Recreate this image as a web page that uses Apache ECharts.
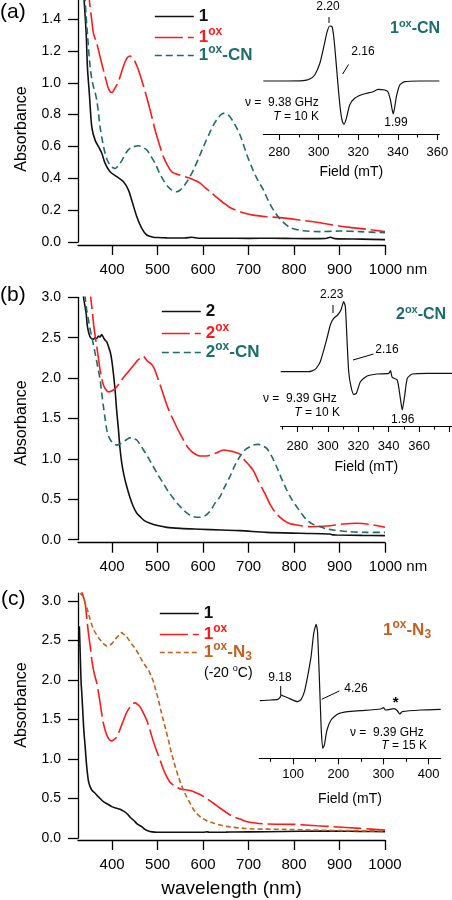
<!DOCTYPE html>
<html><head><meta charset="utf-8">
<script src="https://cdn.jsdelivr.net/npm/echarts@6/dist/echarts.min.js"></script>
<style>html,body{margin:0;padding:0;background:#fff}#c{width:452px;height:900px}</style>
</head><body><div id="c"></div>
<script>
const FONT = 'Liberation Sans, Arial, Helvetica, sans-serif';
const RED = '#ff1a1a', TEAL = '#1c6e6c', BROWN = '#c2621e', BLACK = '#111';

// ---- tick labels ----
const uvTicks = [400,500,600,700,800,900,1000];
const absTicksA = [0,0.2,0.4,0.6,0.8,1.0,1.2,1.4];
const absTicksBC = [0,0.5,1.0,1.5,2.0,2.5,3.0];
const fieldMajorA = [280,300,320,340,360], fieldMinorA = [290,310,330,350];
const fieldMajorB = [280,300,320,340,360,380], fieldLabelsB = [280,300,320,340,360], fieldMinorB = [270,290,310,330,350,370];
const fieldMajorC = [100,200,300,400], fieldMinorC = [50,150,250,350];

// ---- panel (a) ----
const wlA_1 = [330,338.5,343,345.7,350,355.4,362.6,372,377.4,384.6,395.6,410.3,425,436,443,454.3,465.3,476,490.8,500,520,560,575,590,650,700,750,800,850,870,880,890,950,1000];
const absA_1 = [2.0,1.52,1.31,1.10,0.93,0.72,0.64,0.588,0.557,0.494,0.441,0.41,0.378,0.326,0.264,0.159,0.086,0.044,0.03,0.028,0.026,0.025,0.03,0.024,0.024,0.023,0.024,0.022,0.021,0.022,0.03,0.021,0.018,0.015];
const wlA_ox = [348,350,355,359,366.3,373.6,379,384.6,390,395.6,400,403,408,413.8,421,428.6,434,439.6,445,450.5,458,465,472,479.8,487,494.5,503,512.7,522,531.2,540,549.5,560,571.4,582,593.4,605,618,630,645,660,677,692,710,740,769,813,850,886,923,960,1000];
const absA_ox = [1.65,1.52,1.40,1.31,1.247,1.163,1.10,1.04,0.98,0.944,0.94,0.95,0.975,1.006,1.07,1.132,1.16,1.168,1.155,1.132,1.08,1.017,0.95,0.87,0.79,0.703,0.62,0.536,0.48,0.441,0.428,0.42,0.41,0.40,0.387,0.37,0.34,0.31,0.28,0.245,0.215,0.195,0.18,0.169,0.159,0.153,0.138,0.124,0.107,0.092,0.08,0.065];
const wlA_cn = [335,340.7,345.7,351.6,355,359,362.6,366.3,370,373.6,379,384.6,390,395.6,401,406.6,412,417.6,425,432.3,440,446.8,457.8,467,476.3,485,494.5,503,512.7,522,531.2,542,549,556.7,567,578.7,590,600.7,612,622.6,633,644.6,655,666.6,675,683,696,710,720,732,745,755,769,791,820,857,901,945,1000];
const absA_cn = [1.9,1.52,1.31,1.10,1.03,0.975,0.94,0.89,0.81,0.72,0.63,0.557,0.51,0.483,0.468,0.462,0.475,0.494,0.53,0.567,0.59,0.598,0.605,0.595,0.578,0.54,0.494,0.44,0.389,0.35,0.326,0.316,0.325,0.347,0.39,0.452,0.525,0.598,0.67,0.734,0.78,0.808,0.80,0.755,0.71,0.66,0.55,0.45,0.39,0.33,0.25,0.20,0.145,0.092,0.071,0.065,0.069,0.065,0.058];

// ---- panel (b) ----
const wlB_2 = [335,337,342.9,345.7,351.6,358.9,362,366.3,370,373.6,377,379.5,382,384.6,388,392,396,399.3,403,406.6,410,414,417,421.3,426,432.3,440,446.8,454,461.5,470,483.5,500,520,550,593.4,640,681,740,813,879,885,894,950,1000];
const absB_2 = [3.2,3.01,2.80,2.64,2.51,2.48,2.50,2.49,2.52,2.51,2.54,2.52,2.49,2.47,2.45,2.39,2.32,2.22,2.05,1.85,1.6,1.36,1.15,0.945,0.8,0.656,0.51,0.408,0.33,0.285,0.24,0.203,0.175,0.153,0.14,0.13,0.12,0.112,0.091,0.079,0.07,0.06,0.058,0.053,0.05];
const wlB_ox = [350,353,356,359,362,366.3,370,373.6,377,380.9,386,392,399,406.6,414,421.3,428,435.9,443,450.5,456,461.5,465,468.8,472,475,479.8,485,490.8,496,501.8,509,516.5,525,534.7,544,553,562,571.4,580,589.7,598,608,620,630,645,666,681,689,700,710,722,736,748,760,776,790,806,835,872,908,938,967,1000];
const absB_ox = [3.2,3.0,2.85,2.68,2.55,2.39,2.24,2.10,2.0,1.915,1.86,1.83,1.84,1.87,1.92,1.98,2.03,2.08,2.13,2.18,2.22,2.245,2.26,2.27,2.25,2.23,2.20,2.18,2.14,2.07,1.976,1.86,1.73,1.6,1.48,1.37,1.275,1.18,1.11,1.07,1.04,1.035,1.036,1.055,1.077,1.11,1.09,1.06,1.0,0.93,0.86,0.72,0.57,0.43,0.33,0.244,0.2,0.182,0.161,0.17,0.194,0.203,0.19,0.153];
const wlB_cn = [336,340.7,344,348,351,355.4,359,362.6,368,373.6,377,380.9,384.6,388.3,393,399.3,405,410.3,417,425,432,439.6,446,454.3,461,469,480,490.8,501,512.7,523,534.7,545,556.7,567,578.7,593.4,604,615,626,637,648,659,670,681,692,703,712,721.5,730,740,751,762,773,784,795,806,817,828,842,857,871,886,923,960,1000];
const absB_cn = [3.3,3.0,2.85,2.72,2.62,2.51,2.41,2.31,2.15,1.98,1.82,1.646,1.5,1.36,1.27,1.21,1.18,1.17,1.185,1.21,1.24,1.26,1.255,1.234,1.18,1.11,1.01,0.903,0.80,0.698,0.6,0.512,0.44,0.368,0.32,0.285,0.277,0.295,0.35,0.45,0.53,0.66,0.78,0.92,1.03,1.11,1.15,1.175,1.18,1.165,1.13,1.03,0.90,0.75,0.615,0.5,0.408,0.32,0.244,0.19,0.161,0.135,0.12,0.099,0.091,0.091];

// ---- panel (c) ----
const wlC_1 = [328,329,330.5,332,333.4,336,338,340.7,343,345.7,348,351.6,356,362.6,370,380.9,390,399.3,408,417.6,425,432.3,440,446.8,455,465,472,479.8,488,498,530,557,600,610,613,650,667,740,813,886,950,1000];
const absC_1 = [2.68,2.5,2.2,1.95,1.83,1.55,1.35,1.16,0.98,0.82,0.72,0.65,0.6,0.566,0.52,0.46,0.43,0.397,0.38,0.364,0.34,0.31,0.26,0.228,0.18,0.143,0.11,0.089,0.078,0.072,0.072,0.072,0.072,0.08,0.072,0.074,0.076,0.08,0.085,0.089,0.083,0.08];
const wlC_ox = [333.4,337,340.7,344,348,352,355.4,360,366.3,370,373.6,377,380.9,386,391.9,395,399.3,404,410.3,417,425,432,439.6,445,450.5,456,461.5,468,476.2,483,490.8,498,505.5,512,520,527,534.7,544,553,562,571.4,582,593.4,608,622.6,637,652,666,681,695,710.6,740,798.5,850,886,945,1000];
const absC_ox = [3.12,3.05,2.97,2.8,2.59,2.42,2.25,2.1,1.96,1.84,1.71,1.58,1.45,1.34,1.26,1.24,1.23,1.245,1.28,1.37,1.49,1.59,1.66,1.70,1.71,1.69,1.66,1.59,1.49,1.37,1.22,1.1,0.987,0.88,0.776,0.71,0.67,0.635,0.616,0.61,0.6,0.58,0.55,0.5,0.44,0.38,0.32,0.27,0.24,0.21,0.194,0.177,0.173,0.156,0.143,0.122,0.10];
const wlC_n3 = [329.7,333,337,341,345.7,350,355.4,360,366.3,372,377.4,383,388.4,394,399.3,405,410.3,416,421.3,425,428.6,434,439.6,445,450.5,458,465.3,472,479.8,485,490.8,496,501.8,507,512.7,518,523.8,529,534.7,540,545.7,551,556.7,564,571.4,578,586,596,608,622,637,652,666.6,690,710.6,776.5,850,923,1000];
const absC_n3 = [3.10,3.08,3.05,2.97,2.89,2.80,2.70,2.63,2.57,2.52,2.485,2.45,2.43,2.44,2.46,2.50,2.54,2.57,2.60,2.58,2.57,2.53,2.485,2.44,2.40,2.33,2.25,2.19,2.127,2.06,1.98,1.87,1.75,1.62,1.49,1.37,1.24,1.11,0.987,0.88,0.776,0.69,0.608,0.52,0.44,0.37,0.31,0.26,0.219,0.19,0.165,0.147,0.135,0.122,0.114,0.11,0.10,0.092,0.089];

// ---- EPR insets (field in mT, intensity in arbitrary units) ----
const fieldA = [272,283.7,292.1,295.5,298,300.6,302.6,304.3,305.6,306.8,307.8,309,310,311,312,312.8,314,315.7,318.2,322.4,327.5,330,333.4,335,336.3,337.1,337.7,338.3,339.3,341,343.5,351,361];
const eprA = [0,0,0.3,2,6,17.7,34.3,49.3,55,54.3,41,14.3,-9,-29,-40.7,-43.3,-37.3,-24,-17.3,-13.3,-10.7,-8.3,-9,-10.7,-19,-28,-33,-28,-15.7,-4,-0.7,0,0];
const fieldB = [269,287.3,291.7,295,299.4,301.6,303.8,306.4,308.6,310.4,311.5,312.6,313.7,315.2,317,318.7,321.4,325.8,332.4,340,341.2,342.3,345.6,347.8,348.9,350.4,352.2,355.5,365.4,381.6];
const eprB = [0,0,2.3,10,33.3,46.7,53.3,56.7,61.7,70,65,31.7,0,-15,-22.7,-21.7,-10,-4.3,-2.3,-1.7,1,-5.7,-8.3,-28.3,-38.3,-25,-6.7,-2.3,-1.7,-1.7];
const fieldC = [26,51.4,66,70.6,73.5,78,88,110,117.7,125,132,139.7,145.6,151,154,158,162,165.5,169.2,175,184,199,221,250,294,300,305,324,331,336,342,383,427];
const eprC = [9.3,10,10.7,12.3,15,14,12.3,8.3,10.7,18.3,33.3,53.3,76.7,85.7,78.3,33.3,-16.7,-38.3,-35,-20,-10,-4,-1.7,-0.7,1,2.3,0,1.3,-0.7,-4,-1.7,0,0.7];

const pairs = (x, y) => x.map((v, i) => [v, y[i]]);

function uvX(grid, offset, withNm, name) {
  const ax = {
    type: 'value', gridIndex: grid, min: 325, max: 1000, offset: offset,
    axisLine: { show: true, onZero: false, lineStyle: { color: '#000', width: 1.3 } },
    axisTick: { show: true, customValues: uvTicks, length: 10, lineStyle: { color: '#000', width: 1.3 } },
    axisLabel: { customValues: uvTicks, fontSize: 15, margin: 17, color: '#000', fontFamily: FONT,
      formatter: v => (withNm && v === 1000) ? '{n|1000 nm}' : String(v),
      rich: { n: { fontSize: 15, fontFamily: FONT, color: '#000', padding: [0, 0, 0, 26] } } },
    splitLine: { show: false }
  };
  if (name) {
    ax.name = name; ax.nameLocation = 'middle'; ax.nameGap = 39;
    ax.nameTextStyle = { fontSize: 19, fontFamily: FONT, color: '#000' };
  }
  return ax;
}
function absY(grid, max, ticks) {
  return {
    type: 'value', gridIndex: grid, min: 0, max: max,
    axisLine: { show: true, onZero: false, lineStyle: { color: '#000', width: 1.3 } },
    axisTick: { show: true, customValues: ticks, length: 10, lineStyle: { color: '#000', width: 1.3 } },
    axisLabel: { customValues: ticks, fontSize: 14, margin: 17, color: '#000', fontFamily: FONT, formatter: v => v.toFixed(1) },
    splitLine: { show: false }
  };
}
function fieldX(grid, min, max, major, labels, margin, nameGap) {
  return {
    type: 'value', gridIndex: grid, min: min, max: max,
    axisLine: { show: true, onZero: false, lineStyle: { color: '#000', width: 1.2 } },
    axisTick: { show: true, customValues: major, length: 6, lineStyle: { color: '#000', width: 1.1 } },
    axisLabel: { customValues: labels, fontSize: 13, margin: margin, color: '#000', fontFamily: FONT },
    splitLine: { show: false },
    name: 'Field (mT)', nameLocation: 'middle', nameGap: nameGap,
    nameTextStyle: { fontSize: 14, fontFamily: FONT, color: '#000' }
  };
}
function minorX(grid, min, max, minor) {
  return {
    type: 'value', gridIndex: grid, min: min, max: max, position: 'bottom',
    axisLine: { show: false, onZero: false },
    axisTick: { show: true, customValues: minor, length: 3.5, lineStyle: { color: '#000', width: 1.1 } },
    axisLabel: { show: false }, splitLine: { show: false }
  };
}
function hiddenY(grid, min, max) {
  return { type: 'value', gridIndex: grid, min: min, max: max, show: false, splitLine: { show: false } };
}
function uvLine(name, xi, x, y, color, type) {
  return { type: 'line', name: name, xAxisIndex: xi, yAxisIndex: xi, data: pairs(x, y),
    symbol: 'none', showSymbol: false, smooth: 0.3, clip: true, animation: false,
    lineStyle: { color: color, width: 1.6, type: type }, itemStyle: { color: color },
    emphasis: { disabled: true } };
}
function eprLine(xi, yi, x, y) {
  return { type: 'line', xAxisIndex: xi, yAxisIndex: yi, data: pairs(x, y),
    symbol: 'none', showSymbol: false, smooth: 0.2, clip: true, animation: false,
    lineStyle: { color: '#111', width: 1.2 }, emphasis: { disabled: true } };
}

const RED_DASH = [28, 5], TEAL_DASH = [7, 4], BROWN_DASH = [5, 3];

const legendText = {
  a1: '{b|1}', a1ox: '{b|1}{s|ox}', a1oxCN: '{b|1}{s|ox}{b|-CN}',
  b2: '{b|2}', b2ox: '{b|2}{s|ox}', b2oxCN: '{b|2}{s|ox}{b|-CN}',
  c1: '{b|1}', c1ox: '{b|1}{s|ox}', c1oxN3: '{b|1}{s|ox}{b|-N}{u|3}'
};
function leg(name, left, top, color) {
  return {
    data: [name], left: left, top: top, orient: 'vertical', padding: 0, selectedMode: false,
    itemWidth: 39, itemHeight: 14,
    itemStyle: { opacity: 0, borderWidth: 0 },
    lineStyle: { width: 1.6 },
    formatter: n => legendText[n],
    textStyle: { color: color, fontSize: 17, fontWeight: 'bold', fontFamily: FONT,
      rich: {
        b: { color: color, fontSize: 17, fontWeight: 'bold', fontFamily: FONT },
        s: { color: color, fontSize: 12, fontWeight: 'bold', fontFamily: FONT, padding: [0, 0, 11, 0] },
        u: { color: color, fontSize: 12, fontWeight: 'bold', fontFamily: FONT, padding: [9, 0, 0, 0] }
      } }
  };
}

function txt(x, y, text, o) {
  o = o || {};
  return { type: 'text', x: x, y: y, z: 100, rotation: o.rot || 0,
    style: { text: text, fontSize: o.size || 12, fontFamily: FONT, fill: o.color || '#000',
      fontWeight: o.weight || 'normal', align: o.align || 'center', verticalAlign: 'middle', rich: o.rich } };
}
function seg(x1, y1, x2, y2) {
  return { type: 'line', z: 100, shape: { x1: x1, y1: y1, x2: x2, y2: y2 }, style: { stroke: '#000', lineWidth: 1 } };
}
function richTitle(color, size) {
  return {
    b: { fill: color, fontSize: size, fontWeight: 'bold', fontFamily: FONT },
    s: { fill: color, fontSize: size - 5, fontWeight: 'bold', fontFamily: FONT, padding: [0, 0, 10, 0] },
    u: { fill: color, fontSize: size - 5, fontWeight: 'bold', fontFamily: FONT, padding: [9, 0, 0, 0] }
  };
}
const italicRich = { i: { fontStyle: 'italic', fontSize: 12, fontFamily: FONT, fill: '#000' }, n: { fontSize: 12, fontFamily: FONT, fill: '#000' } };
const degRich = { n: { fontSize: 14, fontFamily: FONT, fill: '#000' }, s: { fontSize: 9, fontFamily: FONT, fill: '#000', padding: [0, 0, 8, 0] } };

const graphics = [
  txt(0, 12, '(a)', { size: 21, align: 'left' }),
  txt(0, 295, '(b)', { size: 21, align: 'left' }),
  txt(1, 599, '(c)', { size: 21, align: 'left' }),
  txt(22, 129, 'Absorbance', { size: 16, rot: Math.PI / 2 }),
  txt(22, 423, 'Absorbance', { size: 16, rot: Math.PI / 2 }),
  txt(22, 705, 'Absorbance', { size: 16, rot: Math.PI / 2 }),
  // inset (a)
  txt(328, 7, '2.20'), seg(329, 17, 329, 23),
  txt(363, 52, '2.16'), seg(342.7, 74, 348.5, 64.5),
  txt(396, 123, '1.99'),
  txt(245, 103, 'ν =  9.38 GHz', { align: 'left' }),
  txt(319, 117, '{i|T}{n| = 10 K}', { align: 'right', rich: italicRich }),
  txt(390, 29, '{b|1}{s|ox}{b|-CN}', { align: 'left', rich: richTitle(TEAL, 16) }),
  // inset (b)
  txt(331.7, 295, '2.23'), seg(333, 305, 333, 313),
  txt(387, 349.3, '2.16'), seg(353, 360, 373.5, 354),
  txt(402.7, 420, '1.96'),
  txt(263, 398.3, 'ν =  9.39 GHz', { align: 'left' }),
  txt(340, 412.3, '{i|T}{n| = 10 K}', { align: 'right', rich: italicRich }),
  txt(396, 315, '{b|2}{s|ox}{b|-CN}', { align: 'left', rich: richTitle(TEAL, 16) }),
  // inset (c)
  txt(280, 677.3, '9.18'), seg(280.7, 686, 280.7, 695),
  txt(356, 688.3, '4.26'), seg(321.7, 699.3, 339.3, 691),
  txt(395.7, 703, '*', { size: 15, weight: 'bold' }),
  txt(350, 732.3, 'ν =  9.39 GHz', { align: 'left' }),
  txt(427, 745.7, '{i|T}{n| = 15 K}', { align: 'right', rich: italicRich }),
  txt(383, 630, '{b|1}{s|ox}{b|-N}{u|3}', { align: 'left', rich: richTitle(BROWN, 17) }),
  txt(204, 673, '{n|(-20 }{s|o}{n|C)}', { align: 'left', rich: degRich })
];

const option = {
  animation: false,
  backgroundColor: '#fff',
  grid: [
    { left: 78, right: 67, top: 0, height: 242 },
    { left: 78, right: 67, top: 297.3, height: 242.4 },
    { left: 78, right: 67, top: 593.1, height: 244.9 },
    { left: 263.3, width: 176, top: 21, height: 113 },
    { left: 280.7, width: 171.3, top: 296.7, height: 129.3 },
    { left: 259.3, width: 181.4, top: 620, height: 138.3 }
  ],
  xAxis: [
    uvX(0, 3, true), uvX(1, 3, true), uvX(2, 2, false, 'wavelength (nm)'),
    fieldX(3, 272, 361, fieldMajorA, fieldMajorA, 12, 31),
    fieldX(4, 269, 381.6, fieldMajorB, fieldLabelsB, 14, 34),
    fieldX(5, 25, 427, fieldMajorC, fieldMajorC, 10, 34),
    minorX(3, 272, 361, fieldMinorA), minorX(4, 269, 381.6, fieldMinorB), minorX(5, 25, 427, fieldMinorC)
  ],
  yAxis: [
    absY(0, 1.52, absTicksA), absY(1, 3.0, absTicksBC), absY(2, 3.1, absTicksBC),
    hiddenY(3, -53, 60), hiddenY(4, -54.3, 75), hiddenY(5, -48.3, 90)
  ],
  legend: [
    leg('a1', 154, 8, BLACK), leg('a1ox', 154, 26, RED), leg('a1oxCN', 154, 44, TEAL),
    leg('b2', 161, 303, BLACK), leg('b2ox', 161, 322, RED), leg('b2oxCN', 161, 341, TEAL),
    leg('c1', 159, 605, BLACK), leg('c1ox', 159, 623, RED), leg('c1oxN3', 159, 641, BROWN)
  ],
  series: [
    uvLine('a1', 0, wlA_1, absA_1, BLACK, 'solid'),
    uvLine('a1ox', 0, wlA_ox, absA_ox, RED, RED_DASH),
    uvLine('a1oxCN', 0, wlA_cn, absA_cn, TEAL, TEAL_DASH),
    uvLine('b2', 1, wlB_2, absB_2, BLACK, 'solid'),
    uvLine('b2ox', 1, wlB_ox, absB_ox, RED, RED_DASH),
    uvLine('b2oxCN', 1, wlB_cn, absB_cn, TEAL, TEAL_DASH),
    uvLine('c1', 2, wlC_1, absC_1, BLACK, 'solid'),
    uvLine('c1ox', 2, wlC_ox, absC_ox, RED, RED_DASH),
    uvLine('c1oxN3', 2, wlC_n3, absC_n3, BROWN, BROWN_DASH),
    eprLine(3, 3, fieldA, eprA),
    eprLine(4, 4, fieldB, eprB),
    eprLine(5, 5, fieldC, eprC)
  ],
  graphic: graphics
};

const chart = echarts.init(document.getElementById('c'), null, { renderer: 'canvas' });
chart.setOption(option);
</script></body></html>
